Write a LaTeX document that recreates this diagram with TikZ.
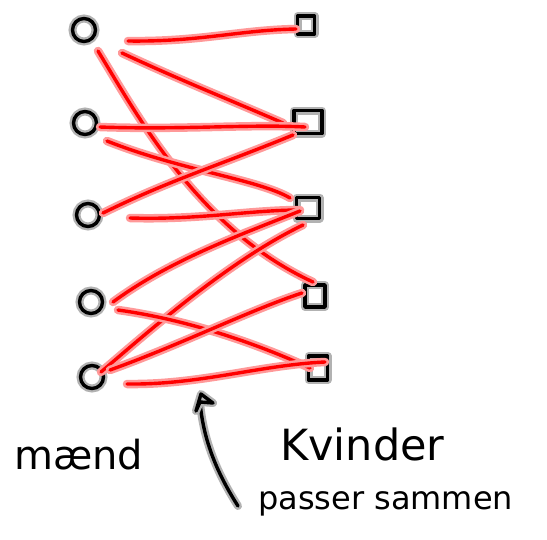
\documentclass[tikz,border=0pt]{standalone}
\usepackage{fontspec}
\setmainfont{DejaVu Sans}
\usetikzlibrary{calc}
\begin{document}
\begin{tikzpicture}[x=1pt,y=-1pt,
  man/.style={circle,draw=black,line width=3.4pt,minimum size=23pt,inner sep=0pt,
    preaction={draw=gray!60,line width=8pt}},
  woman/.style={rectangle,draw=black,line width=3.4pt,inner sep=0pt,line join=round,
    preaction={draw=gray!60,line width=8pt,line join=round}},
  edge/.style={draw=red,line width=3.4pt,line cap=round,
    preaction={draw=red!40,line width=8.5pt,line cap=round}},
  ink/.style={draw=black,line width=3.4pt,line cap=round,line join=round,
    preaction={draw=gray!60,line width=8pt,line cap=round,line join=round}},
  lbl/.style={inner sep=0pt,anchor=base west,text=black}]
\useasboundingbox (0,0) rectangle (547,539);
% men
\node[man] (m1) at (84,30) {};
\node[man] (m2) at (85,123) {};
\node[man] (m3) at (88,215) {};
\node[man] (m4) at (91,302) {};
\node[man] (m5) at (92,377) {};
% women
\node[woman,minimum width=17pt,minimum height=18pt] (w1) at (306,25) {};
\node[woman,minimum width=28pt,minimum height=23pt] (w2) at (308,122) {};
\node[woman,minimum width=23pt,minimum height=21pt] (w3) at (308,208) {};
\node[woman,minimum width=20pt,minimum height=22pt] (w4) at (315,296) {};
\node[woman,minimum width=19pt,minimum height=24pt] (w5) at (318,368) {};
% edges
\path[edge] ($(m1)+(44,11)$) .. controls (200,42) and (240,30) .. ($(w1)+(-10,4)$);
\path[edge] ($(m1)+(38,23)$) .. controls (180,80) and (230,100) .. ($(w2)+(-25,1)$);
\path[edge] ($(m1)+(14,21)$) .. controls (140,120) and (200,230) .. ($(w4)+(-2,-14)$);
\path[edge] ($(m2)+(15,4)$) .. controls (180,130) and (250,124) .. ($(w2)+(-3,5)$);
\path[edge] ($(m2)+(22,18)$) .. controls (180,170) and (260,180) .. ($(w3)+(-18,-10)$);
\path[edge] ($(w2)+(-15,13)$) .. controls (220,165) and (170,180) .. ($(m3)+(15,-2)$);
\path[edge] ($(m3)+(42,3)$) .. controls (200,220) and (250,210) .. ($(w3)+(-8,2)$);
\path[edge] ($(w3)+(-8,3)$) .. controls (240,235) and (170,260) .. ($(m4)+(22,0)$);
\path[edge] ($(w3)+(-5,17)$) .. controls (230,260) and (150,330) .. ($(m5)+(9,-5)$);
\path[edge] ($(m4)+(27,8)$) .. controls (190,320) and (260,345) .. ($(w5)+(-8,0)$);
\path[edge] ($(m5)+(18,-7)$) .. controls (180,345) and (250,310) .. ($(w4)+(-13,-3)$);
\path[edge] ($(m5)+(35,7)$) .. controls (200,385) and (260,365) .. ($(w5)+(7,-6)$);
% labels
\node[lbl,font=\fontsize{40}{40}\selectfont] (men) at (14,469) {mænd};
\node[lbl,font=\fontsize{43}{43}\selectfont] (women) at (280,460) {Kvinder};
\node[lbl,font=\fontsize{32}{32}\selectfont] (match) at (258,509) {passer sammen};
% arrow
\coordinate (atail) at (238,506);
\coordinate (ahead) at (200,402);
\draw[ink] (atail) .. controls (215,470) and (203,437) .. (ahead);
\draw[ink] (ahead) -- (196,411) -- (201,394) -- (213,403) -- cycle;
\end{tikzpicture}
\end{document}
